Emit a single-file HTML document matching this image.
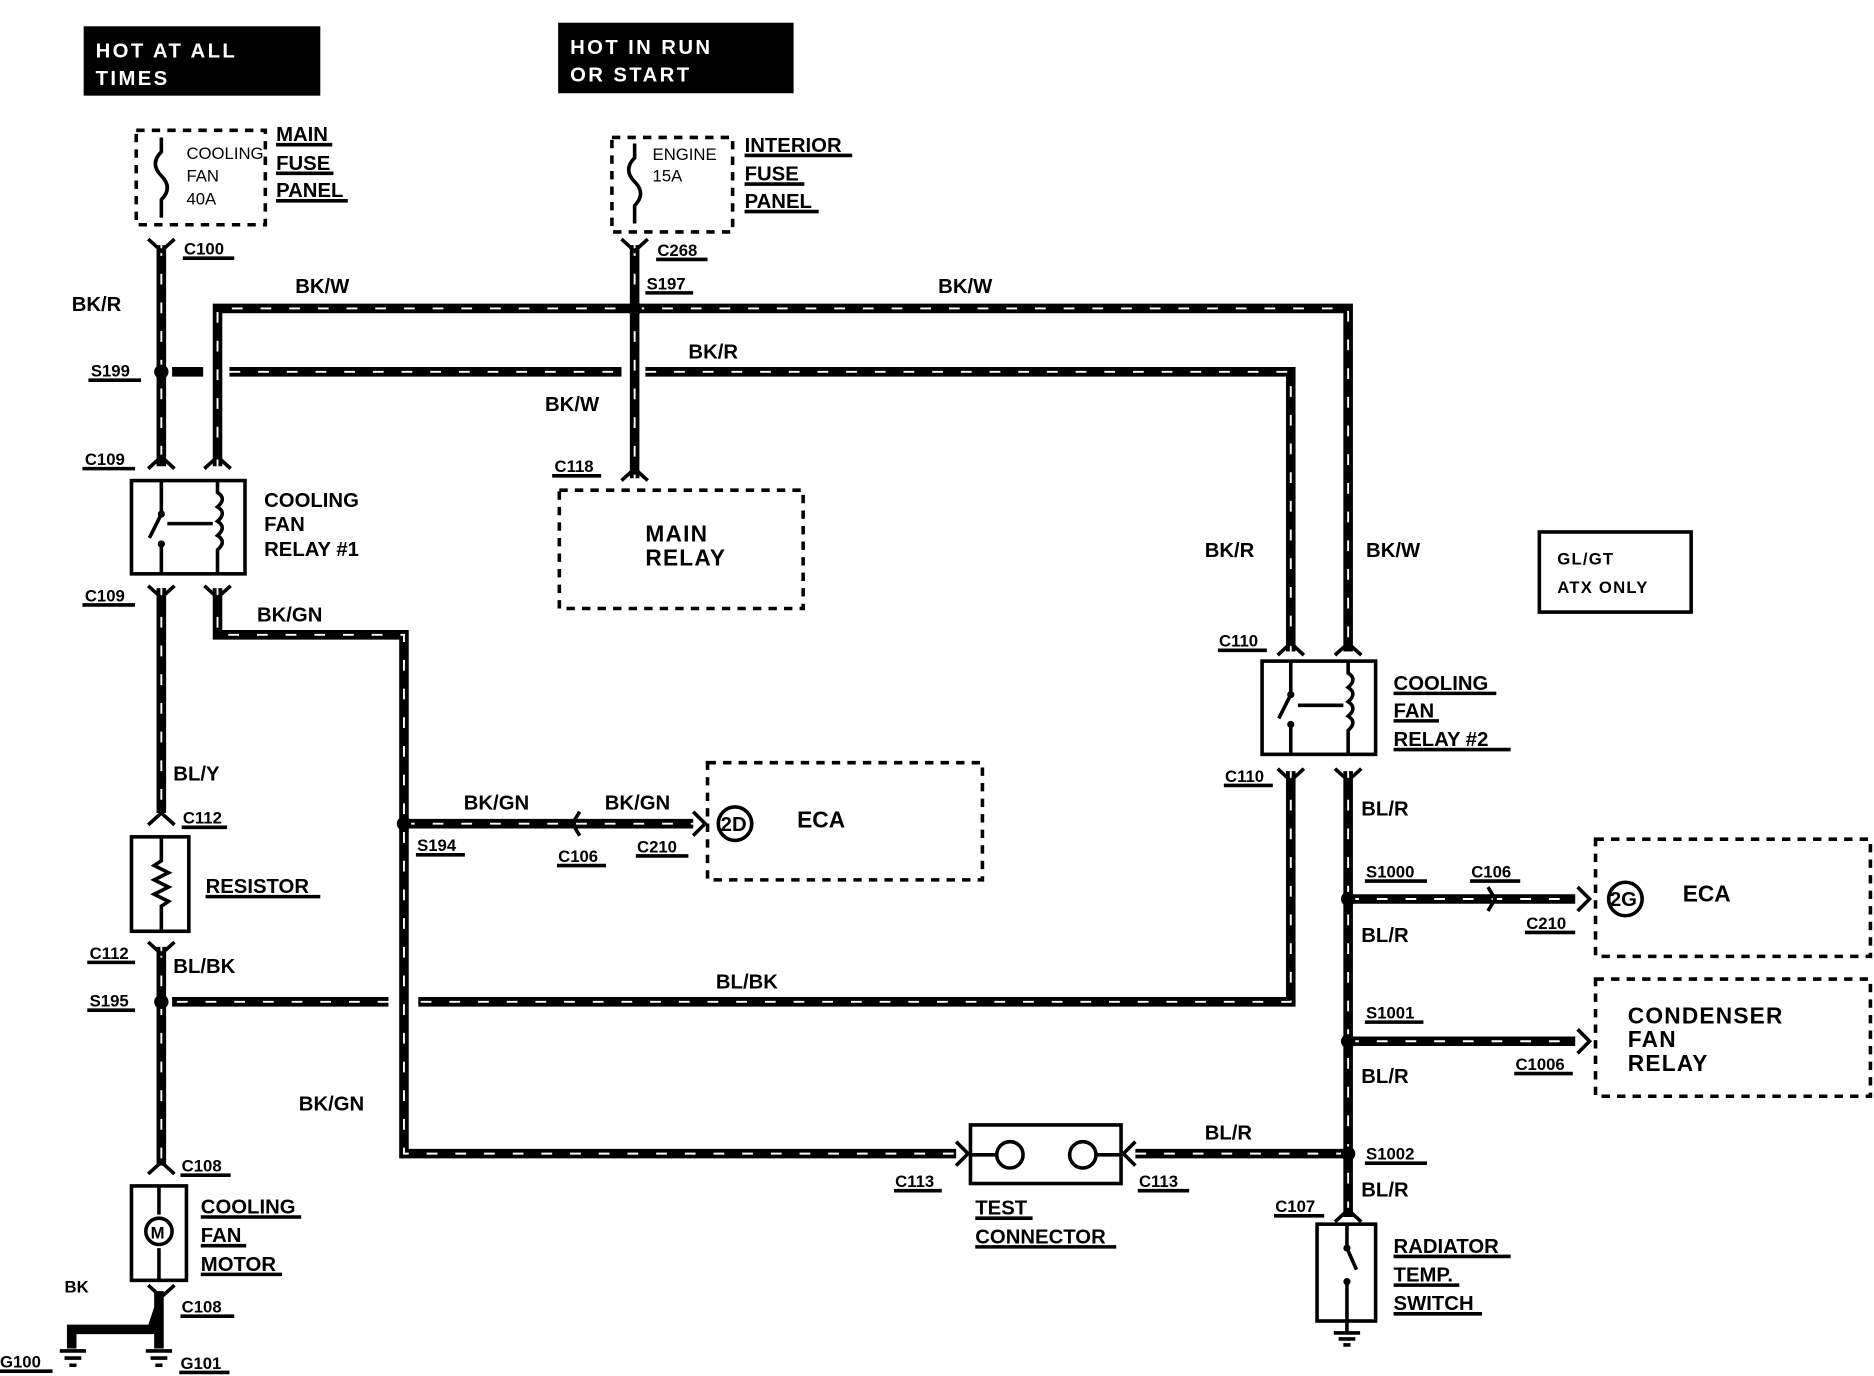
<!DOCTYPE html>
<html><head><meta charset="utf-8"><style>
html,body{margin:0;padding:0;background:#fff;}
svg{display:block;}
text{font-family:"Liberation Sans",sans-serif;font-weight:bold;fill:#000;}
.w{fill:none;stroke:#000;stroke-width:8;stroke-linejoin:miter;}
.h{fill:none;stroke:#fff;stroke-width:1.6;stroke-dasharray:9 15;}
.b{fill:none;stroke:#000;stroke-width:3;}
.d{fill:none;stroke:#000;stroke-width:3;stroke-dasharray:7 6;}
.t{font-size:17px;}
.s{font-size:14px;}
.l{font-size:19px;}
</style></head><body>
<svg width="1874" height="1376" viewBox="0 0 1568 1151" preserveAspectRatio="none">
<rect x="0" y="0" width="1568" height="1151" fill="#fff"/>
<!-- header boxes -->
<rect x="70" y="22" width="198" height="58" fill="#000"/>
<text x="80" y="48" class="t" style="fill:#fff;letter-spacing:2px">HOT AT ALL</text>
<text x="80" y="71" class="t" style="fill:#fff;letter-spacing:2px">TIMES</text>
<rect x="467" y="19" width="197" height="59" fill="#000"/>
<text x="477" y="45" class="t" style="fill:#fff;letter-spacing:2px">HOT IN RUN</text>
<text x="477" y="68" class="t" style="fill:#fff;letter-spacing:2px">OR START</text>

<!-- fuse panels -->
<rect x="114" y="109" width="108" height="79" class="d"/>
<text x="156" y="133" class="s" style="font-weight:normal">COOLING</text>
<text x="156" y="152" class="s" style="font-weight:normal">FAN</text>
<text x="156" y="171" class="s" style="font-weight:normal">40A</text>
<path d="M135 115 v12 q-10 10 0 20 q10 10 0 20 v15" class="b" stroke-width="1.5"/>
<text x="231" y="118" class="t">MAIN</text><text x="231" y="142" class="t">FUSE</text><text x="231" y="165" class="t">PANEL</text>
<rect x="512" y="115" width="101" height="79" class="d"/>
<text x="546" y="134" class="s" style="font-weight:normal">ENGINE</text>
<text x="546" y="152" class="s" style="font-weight:normal">15A</text>
<path d="M531 120 v12 q-10 10 0 20 q10 10 0 20 v15" class="b" stroke-width="1.5"/>
<text x="623" y="127" class="t">INTERIOR</text><text x="623" y="151" class="t">FUSE</text><text x="623" y="174" class="t">PANEL</text>

<!-- wires -->
<g>
<path class="w" d="M135 205 V390 M135 492 V680 M135 792 V975 M182 390 V258 H1128 V545 M531 205 V400 M144 311 H170 M192 311 H520 M540 311 H1080 V545 M182 492 V531 H338 V965 H800 M338 689 H580 M1080 645 V838 H350 M325 838 H144 M1128 645 V1018 M1128 752 H1318 M1128 871 H1318 M950 965 H1128"/>
<path class="h" d="M135 205 V390 M135 492 V680 M135 792 V975 M182 390 V258 H1128 V545 M531 205 V400 M192 311 H520 M540 311 H1080 V545 M182 492 V531 H338 V965 H800 M338 689 H580 M1080 645 V838 H350 M325 838 H144 M1128 645 V1018 M1128 752 H1318 M1128 871 H1318 M950 965 H1128"/>
</g>
<!-- splices -->
<g fill="#000">
<circle cx="531" cy="258" r="6"/><circle cx="135" cy="311" r="6"/><circle cx="338" cy="689" r="6"/><circle cx="135" cy="838" r="6"/>
<circle cx="1128" cy="752" r="6"/><circle cx="1128" cy="871" r="6"/><circle cx="1128" cy="965" r="6"/>
</g>
<!-- connector chevrons -->
<g class="b" stroke-width="2">
<path d="M124 200 l11 10 l11 -10 M520 200 l11 10 l11 -10 M124 392 l11 -10 l11 10 M171 392 l11 -10 l11 10 M124 490 l11 10 l11 -10 M171 490 l11 10 l11 -10 M520 402 l11 -10 l11 10 M124 690 l11 -10 l11 10 M124 788 l11 10 l11 -10 M124 982 l11 -10 l11 10 M124 1075 l11 10 l11 -10 M1069 548 l11 -10 l11 10 M1117 548 l11 -10 l11 10 M1069 643 l11 10 l11 -10 M1117 643 l11 10 l11 -10 M1117 1022 l11 -10 l11 10 M485 679 l-6 10 l6 10 M580 679 l10 10 l-10 10 M1245 742 l6 10 l-6 10 M1320 742 l10 10 l-10 10 M1320 861 l10 10 l-10 10 M800 955 l10 10 l-10 10 M950 955 l-10 10 l10 10"/>
</g>

<!-- connector labels -->
<g class="s">
<text x="154" y="213">C100</text><line x1="153" y1="216" x2="196" y2="216" class="b" stroke-width="1.5"/>
<text x="550" y="214">C268</text><line x1="549" y1="217" x2="592" y2="217" class="b" stroke-width="1.5"/>
<text x="541" y="242">S197</text><line x1="540" y1="245" x2="580" y2="245" class="b" stroke-width="1.5"/>
<text x="76" y="315">S199</text><line x1="74" y1="318" x2="118" y2="318" class="b" stroke-width="1.5"/>
<text x="71" y="389">C109</text><line x1="69" y1="392" x2="113" y2="392" class="b" stroke-width="1.5"/>
<text x="71" y="503">C109</text><line x1="69" y1="506" x2="113" y2="506" class="b" stroke-width="1.5"/>
<text x="464" y="395">C118</text><line x1="462" y1="398" x2="503" y2="398" class="b" stroke-width="1.5"/>
<text x="153" y="689">C112</text><line x1="152" y1="692" x2="190" y2="692" class="b" stroke-width="1.5"/>
<text x="75" y="802">C112</text><line x1="73" y1="805" x2="113" y2="805" class="b" stroke-width="1.5"/>
<text x="75" y="842">S195</text><line x1="73" y1="845" x2="113" y2="845" class="b" stroke-width="1.5"/>
<text x="152" y="980">C108</text><line x1="151" y1="983" x2="193" y2="983" class="b" stroke-width="1.5"/>
<text x="152" y="1098">C108</text><line x1="151" y1="1101" x2="196" y2="1101" class="b" stroke-width="1.5"/>
<text x="349" y="712">S194</text><line x1="348" y1="715" x2="389" y2="715" class="b" stroke-width="1.5"/>
<text x="467" y="721">C106</text><line x1="466" y1="724" x2="507" y2="724" class="b" stroke-width="1.5"/>
<text x="533" y="713">C210</text><line x1="532" y1="716" x2="576" y2="716" class="b" stroke-width="1.5"/>
<text x="1020" y="541">C110</text><line x1="1019" y1="544" x2="1060" y2="544" class="b" stroke-width="1.5"/>
<text x="1025" y="654">C110</text><line x1="1024" y1="657" x2="1065" y2="657" class="b" stroke-width="1.5"/>
<text x="1143" y="734">S1000</text><line x1="1142" y1="737" x2="1194" y2="737" class="b" stroke-width="1.5"/>
<text x="1231" y="734">C106</text><line x1="1230" y1="737" x2="1272" y2="737" class="b" stroke-width="1.5"/>
<text x="1277" y="777">C210</text><line x1="1276" y1="780" x2="1318" y2="780" class="b" stroke-width="1.5"/>
<text x="1143" y="852">S1001</text><line x1="1142" y1="855" x2="1191" y2="855" class="b" stroke-width="1.5"/>
<text x="1268" y="895">C1006</text><line x1="1267" y1="898" x2="1316" y2="898" class="b" stroke-width="1.5"/>
<text x="1143" y="970">S1002</text><line x1="1142" y1="973" x2="1194" y2="973" class="b" stroke-width="1.5"/>
<text x="1067" y="1014">C107</text><line x1="1066" y1="1017" x2="1108" y2="1017" class="b" stroke-width="1.5"/>
<text x="749" y="993">C113</text><line x1="748" y1="996" x2="788" y2="996" class="b" stroke-width="1.5"/>
<text x="953" y="993">C113</text><line x1="952" y1="996" x2="995" y2="996" class="b" stroke-width="1.5"/>
<text x="0" y="1144">G100</text><line x1="0" y1="1147" x2="44" y2="1147" class="b" stroke-width="1.5"/>
<text x="151" y="1145">G101</text><line x1="150" y1="1148" x2="192" y2="1148" class="b" stroke-width="1.5"/>
</g>

<!-- wire labels -->
<g class="t">
<text x="60" y="260">BK/R</text>
<text x="247" y="245">BK/W</text>
<text x="785" y="245">BK/W</text>
<text x="576" y="300">BK/R</text>
<text x="456" y="344">BK/W</text>
<text x="215" y="520">BK/GN</text>
<text x="145" y="653">BL/Y</text>
<text x="145" y="814">BL/BK</text>
<text x="599" y="827">BL/BK</text>
<text x="388" y="677">BK/GN</text>
<text x="506" y="677">BK/GN</text>
<text x="250" y="929">BK/GN</text>
<text x="1008" y="466">BK/R</text>
<text x="1143" y="466">BK/W</text>
<text x="1139" y="682">BL/R</text>
<text x="1139" y="788">BL/R</text>
<text x="1139" y="906">BL/R</text>
<text x="1008" y="953">BL/R</text>
<text x="1139" y="1001">BL/R</text>
<text x="54" y="1081" class="s">BK</text>
</g>

<!-- relay 1 -->
<rect x="110" y="402" width="95" height="78" class="b" stroke-width="4"/>
<path d="M135 402 v28 l-10 20 M135 455 v25 M182 402 v10 q8 5 0 12 q8 5 0 12 q8 5 0 12 q8 5 0 12 v20 M140 438 h38" class="b" stroke-width="2"/>
<circle cx="135" cy="430" r="3"/><circle cx="135" cy="455" r="3"/>
<text x="221" y="424" class="t">COOLING</text><text x="221" y="444" class="t">FAN</text><text x="221" y="465" class="t">RELAY #1</text>
<!-- relay 2 -->
<rect x="1056" y="553" width="95" height="78" class="b" stroke-width="4"/>
<path d="M1080 553 v28 l-10 20 M1080 606 v25 M1128 553 v10 q8 5 0 12 q8 5 0 12 q8 5 0 12 q8 5 0 12 v20 M1086 590 h38" class="b" stroke-width="2"/>
<circle cx="1080" cy="581" r="3"/><circle cx="1080" cy="606" r="3"/>
<g class="t"><text x="1166" y="577">COOLING</text><text x="1166" y="600">FAN</text><text x="1166" y="624">RELAY #2</text></g>
<path d="M1166 580 h86 M1166 603 h38 M1166 627 h98" class="b" stroke-width="1.5"/>

<!-- main relay -->
<rect x="468" y="410" width="204" height="99" class="d"/>
<text x="540" y="453" class="l" style="letter-spacing:1px">MAIN</text><text x="540" y="473" class="l" style="letter-spacing:1px">RELAY</text>

<!-- GL/GT -->
<rect x="1288" y="445" width="127" height="67" class="b"/>
<text x="1303" y="472" class="s" style="letter-spacing:1px">GL/GT</text><text x="1303" y="496" class="s" style="letter-spacing:1px">ATX ONLY</text>

<!-- ECA 2D -->
<rect x="592" y="638" width="230" height="98" class="d"/>
<circle cx="615" cy="689" r="14" class="b" stroke-width="1.5"/><text x="603" y="695" class="t">2D</text>
<text x="667" y="692" class="l">ECA</text>
<!-- ECA 2G -->
<rect x="1335" y="702" width="230" height="98" class="d"/>
<circle cx="1360" cy="752" r="14" class="b" stroke-width="1.5"/><text x="1347" y="758" class="t">2G</text>
<text x="1408" y="754" class="l">ECA</text>
<!-- Condenser -->
<rect x="1335" y="819" width="230" height="98" class="d"/>
<g class="l" style="letter-spacing:1px"><text x="1362" y="856">CONDENSER</text><text x="1362" y="876">FAN</text><text x="1362" y="896">RELAY</text></g>

<!-- resistor -->
<rect x="110" y="700" width="48" height="79" class="b" stroke-width="4"/>
<path d="M135 700 v20 l-6 4 l12 6 l-12 6 l12 6 l-12 6 l12 6 l-6 4 v21" class="b" stroke-width="1.5"/>
<text x="172" y="747" class="t">RESISTOR</text><line x1="172" y1="750" x2="268" y2="750" class="b" stroke-width="1.5"/>
<!-- motor -->
<rect x="110" y="992" width="46" height="79" class="b" stroke-width="4"/>
<path d="M133 992 v24 M133 1044 v27" class="b" stroke-width="2"/>
<circle cx="133" cy="1030" r="11" class="b" stroke-width="2"/><text x="126" y="1036" class="s">M</text>
<g class="t"><text x="168" y="1015">COOLING</text><text x="168" y="1039">FAN</text><text x="168" y="1063">MOTOR</text></g>
<path d="M168 1018 h84 M168 1042 h38 M168 1066 h68" class="b" stroke-width="1.5"/>
<!-- ground -->
<path d="M133 1080 v14 l-6 18 H60 v16 M133 1094 v34" class="w" stroke-width="7"/>
<path d="M50 1130 h22 M54 1136 h14 M58 1142 h6 M122 1130 h22 M126 1136 h14 M130 1142 h6" class="b" stroke-width="2"/>

<!-- test connector -->
<rect x="812" y="941" width="126" height="49" class="b" stroke-width="4"/>
<circle cx="845" cy="966" r="11" class="b" stroke-width="2"/><circle cx="906" cy="966" r="11" class="b" stroke-width="2"/>
<path d="M812 966 h22 M917 966 h21" class="b" stroke-width="2"/>
<g class="t"><text x="816" y="1016">TEST</text><text x="816" y="1040">CONNECTOR</text></g>
<path d="M816 1019 h48 M816 1043 h118" class="b" stroke-width="1.5"/>

<!-- radiator switch -->
<rect x="1102" y="1024" width="49" height="81" class="b" stroke-width="4"/>
<path d="M1127 1024 v20 l8 18 M1127 1072 v33 M1127 1105 v10 M1116 1115 h22 M1120 1120 h14 M1124 1125 h6" class="b" stroke-width="2"/>
<circle cx="1127" cy="1044" r="3"/><circle cx="1127" cy="1072" r="3"/>
<g class="t"><text x="1166" y="1048">RADIATOR</text><text x="1166" y="1072">TEMP.</text><text x="1166" y="1096">SWITCH</text></g>
<path d="M1166 1051 h98 M1166 1075 h55 M1166 1099 h74" class="b" stroke-width="1.5"/>
<path d="M231 121 h47 M231 145 h48 M231 168 h60 M623 130 h90 M623 154 h50 M623 177 h62" class="b" stroke-width="1.5"/>
</svg>
</body></html>
